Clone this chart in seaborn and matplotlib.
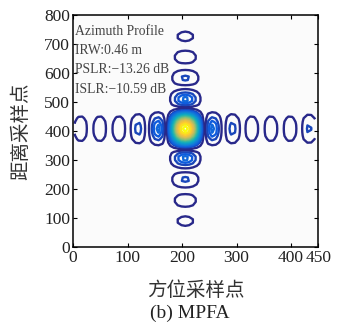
import numpy as np
import matplotlib
matplotlib.use("Agg")
import matplotlib.pyplot as plt
import seaborn as sns

# ---- data ----
az_samples = np.arange(3, 447, 7.0)          # azimuth sample grid
rg_samples = np.arange(0, 801, 12.0)         # range sample grid
az_center = 206.0                            # peak position (azimuth)
rg_center = 408.0                            # peak position (range)
az_lobe_spacing = 35.0                       # sidelobe spacing along azimuth
rg_lobe_spacing = 71.0                       # sidelobe spacing along range
az_lobes_left = [0.21, 0.14, 0.10, 0.10, 0.10, 0.10]   # peak level of each sidelobe
az_lobes_right = [0.21, 0.14, 0.10, 0.10, 0.10, 0.13]
rg_lobes_down = [0.21, 0.13, 0.09, 0.068]
rg_lobes_up = [0.21, 0.13, 0.09, 0.068]
contour_levels = [0.05, 0.12, 0.165, 0.20, 0.25, 0.30, 0.355, 0.41, 0.465,
                  0.52, 0.575, 0.63, 0.685, 0.74, 0.795, 0.85, 0.905, 0.96]
x_ticks = [0, 100, 200, 300, 400, 450]
y_ticks = [0, 100, 200, 300, 400, 500, 600, 700, 800]
info_lines = ["Azimuth Profile", "IRW:0.46 m", "PSLR:\u221213.26 dB", "ISLR:\u221210.59 dB"]


def profile(t, center, spacing, lobes_neg, lobes_pos):
    """Sinc-shaped profile whose sidelobes are scaled to the listed peak levels."""
    u = (t - center) / spacing
    k = np.floor(np.abs(u)).astype(int)
    out = np.abs(np.sinc(u))
    scale = np.zeros_like(u)
    scale[k == 0] = 1.0
    for side, lobes in ((u < 0, lobes_neg), (u >= 0, lobes_pos)):
        for i, lvl in enumerate(lobes, start=1):
            m = side & (k == i)
            scale[m] = lvl / abs(np.sinc(i + 0.5))
    return out * scale


X, Y = np.meshgrid(az_samples, rg_samples)
Z = (profile(X, az_center, az_lobe_spacing, az_lobes_left, az_lobes_right)
     * profile(Y, rg_center, rg_lobe_spacing, rg_lobes_down, rg_lobes_up))

sns.set_theme(style="ticks")
plt.rcParams['font.family'] = ['Liberation Serif', 'DejaVu Serif']
plt.rcParams['axes.unicode_minus'] = True

parula = sns.blend_palette(["#28288a", "#0f5cdd", "#1481d6", "#06a4ca",
                            "#2eb7a4", "#87bf77", "#d1bb59", "#fec832", "#f9fb0e"],
                           as_cmap=True)

fig = plt.figure(figsize=(3.46, 3.26), dpi=100)
ax = fig.add_axes([0.211, 0.242, 0.709, 0.712])
ax.set_facecolor("#fbfbfb")
ax.contour(X, Y, Z, levels=contour_levels, cmap=parula, linewidths=1.7)

ax.set_xlim(0, 450)
ax.set_ylim(0, 800)
ax.set_xticks(x_ticks)
ax.set_yticks(y_ticks)
ax.tick_params(direction="in", top=True, right=True, length=3, width=0.8,
               labelsize=12.5, colors="black", pad=2)
for lab in ax.get_xticklabels() + ax.get_yticklabels():
    lab.set_family(['Liberation Serif'])
    lab.set_color("#222222")
for s in ax.spines.values():
    s.set_linewidth(1.1)
    s.set_color("black")

cjk = ['Noto Sans CJK SC', 'DejaVu Sans']
ax.set_xlabel("方位采样点", family=cjk, fontsize=14, labelpad=10, color="#333333")
ax.set_ylabel("距离采样点", family=cjk, fontsize=14, labelpad=9, color="#333333")
fig.text(0.55, 0.04, "(b) MPFA", ha="center", va="center", fontsize=14,
         family=['Liberation Serif'], color="#222222")

for i, t in enumerate(info_lines):
    ax.text(0.008, 0.93 - i * 0.083, t, transform=ax.transAxes, fontsize=9.8,
            family=['Liberation Serif'], color="#444444", va="center", ha="left")

fig.savefig("out.png", dpi=100)
